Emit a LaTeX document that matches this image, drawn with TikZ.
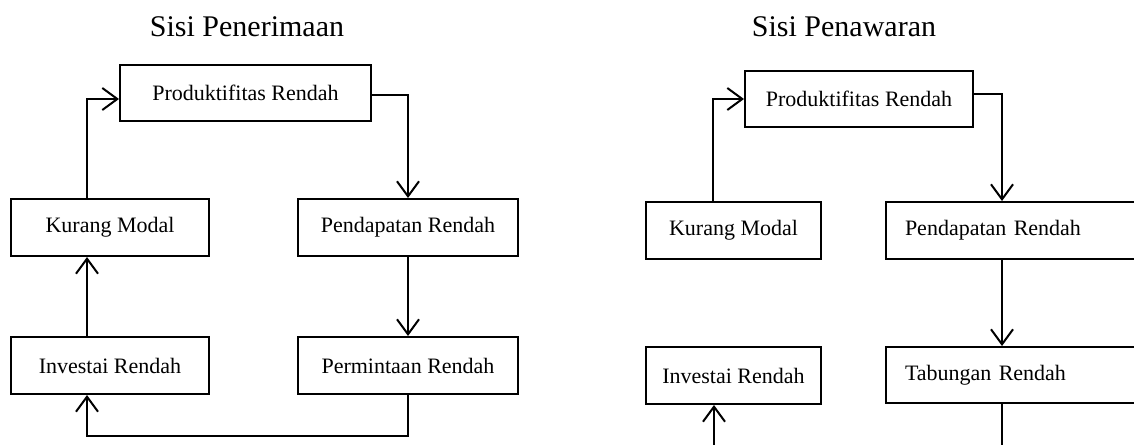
\documentclass[tikz,border=0pt]{standalone}
\usepackage{fontspec}
\setmainfont{Liberation Serif}
\usetikzlibrary{arrows.meta}

\begin{document}
\begin{tikzpicture}[x=1pt,y=-1pt,line width=2pt,>={Straight Barb[length=15pt,width=22pt]},
  kotak/.style={draw,rectangle,minimum height=57pt,inner sep=0pt,font=\fontsize{22}{26}\selectfont},
  kotakkanan/.style={kotak,text width=236pt,align=left,inner xsep=19pt},
  judul/.style={font=\fontsize{30}{36}\selectfont}]
  \useasboundingbox (0,0) rectangle (1134,444);
  \clip (0,0) rectangle (1134,444);
  % sisi penerimaan
  \node[judul] (judulA) at (247,27){Sisi Penerimaan};
  \node[kotak,minimum width=251pt,minimum height=56pt] (prodA) at (245.5,93){Produktifitas Rendah};
  \node[kotak,minimum width=198pt] (kurA) at (110,227.5){Kurang Modal};
  \node[kotak,minimum width=220pt] (penA) at (408,227.5){Pendapatan Rendah};
  \node[kotak,minimum width=198pt] (invA) at (110,365.5){Investai Rendah};
  \node[kotak,minimum width=220pt] (perA) at (408,365.5){Permintaan Rendah};
  \coordinate (bawahA) at (408,436);
  \draw[->] ([xshift=-23pt]kurA.north) |- ([yshift=-6pt]prodA.west);
  \draw[->] ([yshift=-2pt]prodA.east) -| (penA.north);
  \draw[->] (penA.south) -- (perA.north);
  \draw[->] ([xshift=-23pt]invA.north) -- ([xshift=-23pt]kurA.south);
  \draw[->] (perA.south) -- (bawahA) -| ([xshift=-23pt]invA.south);
  % sisi penawaran
  \node[judul] (judulB) at (844,27){Sisi Penawaran};
  \node[kotak,minimum width=228pt,minimum height=56pt] (prodB) at (859,99){Produktifitas Rendah};
  \node[kotak,minimum width=175pt] (kurB) at (733.5,230.5){Kurang Modal};
  \node[kotakkanan] (penB) at (1023,230.5){Pendapatan Rendah};
  \node[kotak,minimum width=175pt] (invB) at (733.5,375.5){Investai Rendah};
  \node[kotakkanan,minimum height=56pt] (tabB) at (1023,375){Tabungan Rendah};
  \coordinate (bawahB) at (1002,460);
  \coordinate (bawahC) at (714,460);
  \draw[->] ([xshift=-20.5pt]kurB.north) |- (prodB.west);
  \draw[->] ([yshift=5pt]prodB.east) -| ([xshift=-21pt]penB.north);
  \draw[->] ([xshift=-21pt]penB.south) -- ([xshift=-21pt]tabB.north);
  \draw ([xshift=-21pt]tabB.south) -- (bawahB);
  \draw[->] (bawahC) -- ([xshift=-19.5pt]invB.south);
\end{tikzpicture}
\end{document}
